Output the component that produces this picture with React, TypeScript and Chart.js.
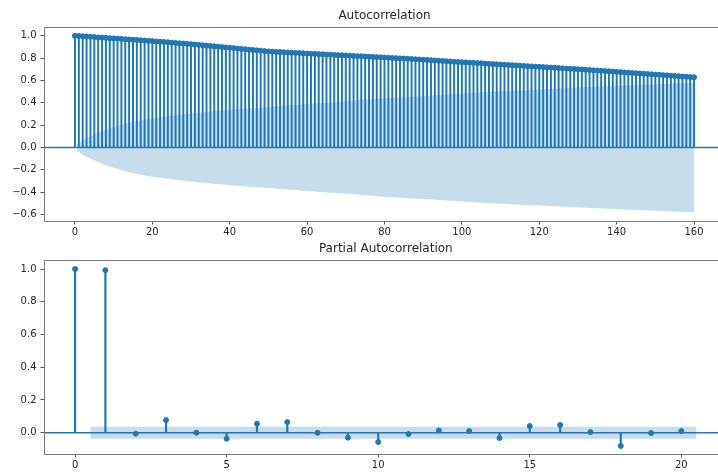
import React, { useEffect, useRef } from 'react';
import { Chart, registerables } from 'chart.js';

Chart.register(...registerables);

// ---------- Data ----------
const ACF_VALUES = [
  1.000, 0.998, 0.996, 0.993, 0.991, 0.989, 0.986, 0.984, 0.982, 0.979, 0.977,
  0.975, 0.972, 0.970, 0.967, 0.965, 0.963, 0.960, 0.958, 0.955, 0.953,
  0.950, 0.947, 0.945, 0.942, 0.939, 0.936, 0.933, 0.931, 0.928, 0.925,
  0.922, 0.919, 0.915, 0.912, 0.909, 0.906, 0.903, 0.899, 0.896, 0.893,
  0.890, 0.886, 0.883, 0.880, 0.876, 0.873, 0.870, 0.867, 0.863, 0.860,
  0.858, 0.856, 0.855, 0.853, 0.851, 0.849, 0.847, 0.846, 0.844, 0.842,
  0.840, 0.838, 0.836, 0.835, 0.833, 0.831, 0.829, 0.827, 0.826, 0.824,
  0.822, 0.820, 0.818, 0.817, 0.815, 0.813, 0.811, 0.809, 0.808, 0.806,
  0.804, 0.802, 0.800, 0.798, 0.796, 0.794, 0.792, 0.790, 0.788, 0.786,
  0.784, 0.782, 0.779, 0.777, 0.775, 0.773, 0.771, 0.768, 0.766, 0.764,
  0.762, 0.760, 0.758, 0.756, 0.754, 0.751, 0.749, 0.747, 0.745, 0.743,
  0.741, 0.739, 0.737, 0.735, 0.733, 0.730, 0.728, 0.726, 0.724, 0.722,
  0.720, 0.718, 0.716, 0.714, 0.712, 0.709, 0.707, 0.705, 0.703, 0.701,
  0.699, 0.696, 0.694, 0.691, 0.689, 0.687, 0.684, 0.682, 0.680, 0.677,
  0.675, 0.672, 0.670, 0.667, 0.665, 0.663, 0.660, 0.658, 0.655, 0.653,
  0.651, 0.648, 0.646, 0.643, 0.641, 0.639, 0.636, 0.634, 0.631, 0.629,
];
const ACF_LAGS = ACF_VALUES.map((_, i) => i);

const ACF_BAND_LAGS = [0.5, 1, 2, 3, 5, 7, 10, 13, 16, 20, 25, 30, 35, 40, 50, 60, 70, 80, 90, 100, 110, 120, 130, 140, 150, 160];
const ACF_BAND_HALF = [0.035, 0.04, 0.062, 0.082, 0.115, 0.145, 0.182, 0.212, 0.238, 0.262, 0.285, 0.305, 0.322, 0.337, 0.363, 0.39, 0.415, 0.44, 0.462, 0.483, 0.503, 0.52, 0.537, 0.552, 0.566, 0.579];

const ACF_X_TICKS = [0, 20, 40, 60, 80, 100, 120, 140, 160];
const ACF_Y_TICKS = [-0.6, -0.4, -0.2, 0.0, 0.2, 0.4, 0.6, 0.8, 1.0];

const PACF_VALUES = [
  1.0, 0.993, -0.006, 0.077, 0.0, -0.037, 0.055, 0.065, 0.0, -0.03,
  -0.057, -0.008, 0.014, 0.010, -0.032, 0.041, 0.047, 0.004, -0.081, -0.002, 0.010,
];
const PACF_LAGS = PACF_VALUES.map((_, i) => i);
const PACF_BAND_LAGS = [0.5, 20.5];
const PACF_BAND_HALF = [0.037, 0.037];

const PACF_X_TICKS = [0, 5, 10, 15, 20];
const PACF_Y_TICKS = [0.0, 0.2, 0.4, 0.6, 0.8, 1.0];

// ---------- Styles ----------
const BLUE = '#1f77b4';
const BAND = 'rgba(31,119,180,0.25)';
const FONT = 'DejaVu Sans';
const TEXT = '#262626';
const SPINE = '#7a7a7a';
const TICK = '#555555';
const CANVAS_W = 760;

function fmt(v: number, digits: number): string {
  const s = Math.abs(v).toFixed(digits);
  return v < -1e-9 ? '\u2212' + s : s;
}

// Axes spines (left, top, bottom) along the chart area edges; the right
// spine lies outside the visible 718px window, as in the reference.
const framePlugin = {
  id: 'axesFrame',
  afterDraw(chart: any) {
    const { ctx, chartArea } = chart;
    const l = Math.round(chartArea.left) + 0.5;
    const r = chartArea.right;
    const t = Math.round(chartArea.top) + 0.5;
    const b = Math.round(chartArea.bottom) + 0.5;
    ctx.save();
    ctx.strokeStyle = SPINE;
    ctx.lineWidth = 1;
    ctx.beginPath();
    ctx.moveTo(r, t);
    ctx.lineTo(l, t);
    ctx.lineTo(l, b);
    ctx.lineTo(r, b);
    ctx.stroke();
    ctx.restore();
  },
};

interface PanelOpts {
  title: string;
  lags: number[];
  values: number[];
  bandLags: number[];
  bandHalf: number[];
  xTicks: number[];
  yTicks: number[];
  xMin: number;
  xMax: number;
  yMin: number;
  yMax: number;
  canvasH: number;
  areaBottom: number;
  areaRight: number;
  titlePadTop: number;
  titlePadBottom: number;
  stemWidth: number;
}

function buildConfig(p: PanelOpts): any {
  return {
    type: 'scatter',
    plugins: [framePlugin],
    data: {
      datasets: [
        {
          type: 'line',
          data: p.bandLags.map((x, i) => ({ x, y: p.bandHalf[i] })),
          borderWidth: 0,
          borderColor: 'rgba(0,0,0,0)',
          pointRadius: 0,
          fill: '+1',
          backgroundColor: BAND,
          cubicInterpolationMode: 'monotone',
          order: 0,
        },
        {
          type: 'line',
          data: p.bandLags.map((x, i) => ({ x, y: -p.bandHalf[i] })),
          borderWidth: 0,
          borderColor: 'rgba(0,0,0,0)',
          pointRadius: 0,
          fill: false,
          cubicInterpolationMode: 'monotone',
          order: 0,
        },
        {
          type: 'scatter',
          data: p.lags.map((x, i) => ({ x, y: p.values[i] })),
          pointRadius: 2.5,
          pointBorderWidth: 1,
          backgroundColor: BLUE,
          borderColor: BLUE,
          order: 1,
        },
        {
          type: 'line',
          data: [
            { x: p.xMin, y: 0 },
            { x: p.xMax, y: 0 },
          ],
          borderColor: BLUE,
          borderWidth: 1.5,
          pointRadius: 0,
          fill: false,
          order: 2,
        },
        {
          type: 'bar',
          data: p.lags.map((x, i) => ({ x, y: p.values[i] })),
          backgroundColor: BLUE,
          borderWidth: 0,
          barThickness: p.stemWidth,
          order: 3,
        },
      ],
    },
    options: {
      animation: false,
      responsive: false,
      maintainAspectRatio: false,
      devicePixelRatio: 1,
      events: [],
      layout: { padding: { left: 0, right: CANVAS_W - p.areaRight, top: 0, bottom: 0 } },
      plugins: {
        legend: { display: false },
        tooltip: { enabled: false },
        title: {
          display: true,
          text: p.title,
          color: TEXT,
          fullSize: false,
          font: { family: FONT, size: 12, weight: 'normal', lineHeight: 1.2 },
          padding: { top: p.titlePadTop, bottom: p.titlePadBottom },
        },
      },
      scales: {
        x: {
          type: 'linear',
          position: 'bottom',
          min: p.xMin,
          max: p.xMax,
          offset: false,
          grid: {
            display: true,
            drawOnChartArea: false,
            drawTicks: true,
            tickLength: 3.5,
            tickWidth: 1,
            tickColor: TICK,
            offset: false,
          },
          border: { display: false },
          ticks: {
            autoSkip: false,
            maxRotation: 0,
            minRotation: 0,
            padding: 2,
            color: TEXT,
            font: { family: FONT, size: 10 },
            callback: (v: number) => fmt(v, 0),
          },
          afterBuildTicks: (s: any) => {
            s.ticks = p.xTicks.map((value) => ({ value }));
          },
          afterFit: (s: any) => {
            s.height = p.canvasH - p.areaBottom;
          },
        },
        y: {
          type: 'linear',
          position: 'left',
          min: p.yMin,
          max: p.yMax,
          grid: {
            display: true,
            drawOnChartArea: false,
            drawTicks: true,
            tickLength: 3.5,
            tickWidth: 1,
            tickColor: TICK,
          },
          border: { display: false },
          ticks: {
            autoSkip: false,
            padding: 4,
            color: TEXT,
            font: { family: FONT, size: 10 },
            callback: (v: number) => fmt(v, 1),
          },
          afterBuildTicks: (s: any) => {
            s.ticks = p.yTicks.map((value) => ({ value }));
          },
          afterFit: (s: any) => {
            s.width = 44;
          },
        },
      },
    },
  };
}

export default function App() {
  const topRef = useRef<HTMLCanvasElement | null>(null);
  const botRef = useRef<HTMLCanvasElement | null>(null);

  useEffect(() => {
    Chart.defaults.font.family = FONT;
    const charts: Chart[] = [];
    if (topRef.current) {
      charts.push(
        new Chart(
          topRef.current,
          buildConfig({
            title: 'Autocorrelation',
            lags: ACF_LAGS,
            values: ACF_VALUES,
            bandLags: ACF_BAND_LAGS,
            bandHalf: ACF_BAND_HALF,
            xTicks: ACF_X_TICKS,
            yTicks: ACF_Y_TICKS,
            xMin: -8,
            xMax: 168,
            yMin: -0.658,
            yMax: 1.079,
            canvasH: 240,
            areaBottom: 221,
            areaRight: 725,
            titlePadTop: 8.5,
            titlePadBottom: 4.1,
            stemWidth: 1.3,
          })
        )
      );
    }
    if (botRef.current) {
      charts.push(
        new Chart(
          botRef.current,
          buildConfig({
            title: 'Partial Autocorrelation',
            lags: PACF_LAGS,
            values: PACF_VALUES,
            bandLags: PACF_BAND_LAGS,
            bandHalf: PACF_BAND_HALF,
            xTicks: PACF_X_TICKS,
            yTicks: PACF_Y_TICKS,
            xMin: -1.025,
            xMax: 21.525,
            yMin: -0.13,
            yMax: 1.055,
            canvasH: 236,
            areaBottom: 218,
            areaRight: 727.6,
            titlePadTop: 5.5,
            titlePadBottom: 4.1,
            stemWidth: 1.5,
          })
        )
      );
    }
    return () => {
      charts.forEach((c) => c.destroy());
    };
  }, []);

  return (
    <div
      style={{
        position: 'fixed',
        left: 0,
        top: 0,
        width: 718,
        height: 472,
        overflow: 'hidden',
        background: '#ffffff',
      }}
    >
      <canvas
        ref={topRef}
        width={CANVAS_W}
        height={240}
        style={{ position: 'absolute', left: 0, top: 0, width: CANVAS_W, height: 240, display: 'block' }}
      />
      <canvas
        ref={botRef}
        width={CANVAS_W}
        height={236}
        style={{ position: 'absolute', left: 0, top: 236, width: CANVAS_W, height: 236, display: 'block' }}
      />
    </div>
  );
}
